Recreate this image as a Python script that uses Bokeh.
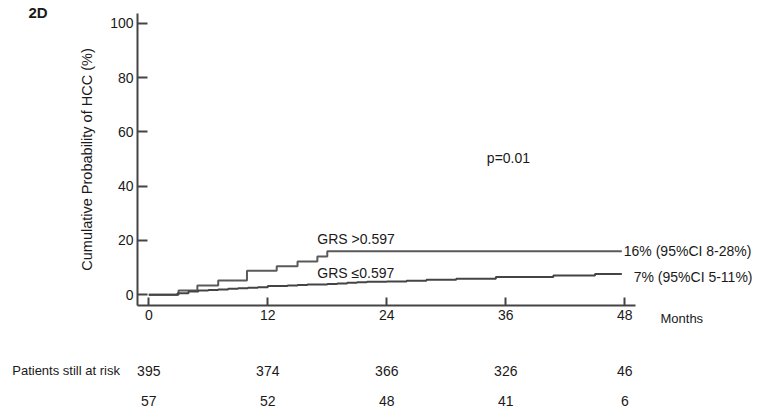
from bokeh.plotting import figure
from bokeh.models import Label, LabelSet, ColumnDataSource, FixedTicker, Range1d
from bokeh.core.properties import value
from bokeh.embed import file_html
from bokeh.resources import INLINE

# ---- data ----
months_ticks = [0, 12, 24, 36, 48]
y_ticks = [0, 20, 40, 60, 80, 100]

high_t = [0, 3.0, 4.9, 7.0, 9.9, 12.9, 15.0, 17.0, 18.0, 47.7]
high_y = [0, 1.6, 3.4, 5.3, 8.9, 10.5, 12.3, 14.1, 16.0, 16.0]

low_t = [0, 2.9, 4.0, 5.0, 6.0, 7.0, 8.0, 9.0, 10.0, 11.0, 12.0, 14.0, 15.0, 16.0,
         18.0, 19.0, 20.0, 21.0, 22.0, 24.0, 26.0, 28.0, 31.0, 35.0, 40.8, 45.0, 47.7]
low_y = [0, 0.6, 1.2, 1.6, 1.8, 2.0, 2.2, 2.4, 2.6, 2.8, 3.2, 3.4, 3.6, 3.8,
         4.0, 4.2, 4.4, 4.6, 4.8, 4.9, 5.2, 5.5, 5.9, 6.6, 7.1, 7.7, 7.7]

risk_high = ["395", "374", "366", "326", "46"]
risk_low = ["57", "52", "48", "41", "6"]

label_high = "GRS >0.597"
label_low = "GRS \u22640.597"
end_high = "16% (95%CI 8-28%)"
end_low = "7% (95%CI 5-11%)"
p_text = "p=0.01"

FONT = "Liberation Sans"
TXT = "#1a1a1a"
AX = "#444444"

X0, X1 = -1.14, 49.08      # extent of the x axis line
Y0, Y1 = -3.94, 103.68     # extent of the y axis line

p = figure(width=765, height=413, output_backend="svg", toolbar_location=None,
           x_range=Range1d(-14.954, 62.19), y_range=Range1d(-43.70, 108.36),
           min_border_left=0, min_border_right=0, min_border_top=0,
           min_border_bottom=0, title=None)
p.outline_line_color = None
p.xgrid.visible = False
p.ygrid.visible = False
p.background_fill_color = "white"
p.border_fill_color = "white"

for ax in (p.xaxis[0], p.yaxis[0]):
    ax.axis_line_color = AX
    ax.axis_line_width = 2
    ax.major_tick_line_color = AX
    ax.major_tick_line_width = 2
    ax.major_tick_out = 0
    ax.minor_tick_line_color = None
    ax.major_label_text_font = FONT
    ax.major_label_text_font_size = "14px"
    ax.major_label_text_color = TXT
    ax.major_label_standoff = 4

xa = p.xaxis[0]
xa.ticker = FixedTicker(ticks=months_ticks)
xa.major_tick_in = 8
xa.fixed_location = Y0
xa.bounds = (X0, X1)

ya = p.yaxis[0]
ya.ticker = FixedTicker(ticks=y_ticks)
ya.major_tick_in = 10
ya.fixed_location = X0
ya.bounds = (Y0, Y1)
ya.axis_label = "Cumulative Probability of HCC (%)"
ya.axis_label_text_font = FONT
ya.axis_label_text_font_size = "14.5px"
ya.axis_label_text_font_style = "normal"
ya.axis_label_text_color = TXT
ya.axis_label_standoff = 12

p.step(high_t, high_y, mode="after", line_color="#5a5a5a", line_width=2)
p.step(low_t, low_y, mode="after", line_color="#444444", line_width=2)

def lab(x, y, text, size="14px", align="left", style="normal"):
    p.add_layout(Label(x=x, y=y, text=text, text_font=FONT, text_font_size=size,
                       text_color=TXT, text_align=align, text_baseline="middle",
                       text_font_style=style))

lab(36.27, 50.2, p_text, align="center")
lab(17.0, 20.7, label_high)
lab(17.0, 8.0, label_low)
lab(47.9, 16.1, end_high)
lab(48.9, 6.4, end_low)
lab(51.6, -8.6, "Months", size="13px")
lab(-13.77, -27.87, "Patients still at risk", size="13px")
lab(-11.17, 103.9, "2D", size="15px", align="center", style="bold")

src = ColumnDataSource(dict(x=months_ticks, hi=risk_high, lo=risk_low,
                            yh=[-27.87] * 5, yl=[-38.92] * 5))
for col, ycol in (("hi", "yh"), ("lo", "yl")):
    p.add_layout(LabelSet(x="x", y=ycol, text=col, source=src,
                          text_font=value(FONT), text_font_size=value("14px"),
                          text_color=TXT, text_align="center",
                          text_baseline="middle"))

open("out.html", "w").write(file_html(p, INLINE))
